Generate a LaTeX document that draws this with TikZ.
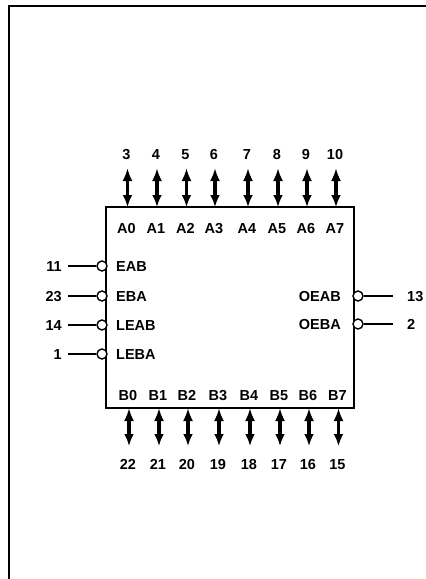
\documentclass[tikz,border=0pt]{standalone}
\usepackage{fontspec}
\setmainfont{Liberation Sans}
\usetikzlibrary{arrows.meta}
\begin{document}
\begin{tikzpicture}[x=1pt,y=-1pt,
  lab/.style={font=\bfseries\fontsize{14.5}{16}\selectfont,inner sep=0pt,text=black},
  pinline/.style={line width=1.4pt,draw=black},
  bus/.style={line width=3.2pt,draw=black,{Latex[length=13pt,width=10pt]}-{Latex[length=12pt,width=10pt]}},
  bubble/.style={circle,draw=black,fill=white,line width=1.4pt,minimum size=10pt,inner sep=0pt},
  chip/.style={draw=black,line width=2.6pt,minimum width=248pt,minimum height=201pt,inner sep=0pt}]
\useasboundingbox (0,0) rectangle (426,579);
\fill[white] (0,0) rectangle (426,579);
\coordinate (fa) at (9,579); \coordinate (fb) at (9,6); \coordinate (fc) at (426,6);
\draw[line width=1.6pt] (fa) -- (fb) -- (fc);
\node[chip] (u) at (230,307.5) {};
\foreach \x/\xb/\a/\ta/\b/\tb/\nm in {
 127.5/129/3/A0/22/B0/0,157/159/4/A1/21/B1/1,186.5/188/5/A2/20/B2/2,215/219/6/A3/19/B3/3,
 248/250/7/A4/18/B4/4,278/280/8/A5/17/B5/5,307/309/9/A6/16/B6/6,336/338.5/10/A7/15/B7/7}{
  \node[lab,anchor=base] (pa\nm) at (\x-1,159) {\a};
  \node[lab,anchor=base] (ia\nm) at (\x-1,233) {\ta};
  \coordinate (ta\nm) at (\x,168);
  \coordinate (ua\nm) at (\x,207);
  \draw[bus] (ta\nm) -- (ua\nm);
  \node[lab,anchor=base] (pb\nm) at (\xb-1,469) {\b};
  \node[lab,anchor=base] (ib\nm) at (\xb-1,400) {\tb};
  \coordinate (tb\nm) at (\xb,408);
  \coordinate (ub\nm) at (\xb,446);
  \draw[bus] (tb\nm) -- (ub\nm);
}
\foreach \y/\p/\t/\nm in {266/11/EAB/0,296/23/EBA/1,325/14/LEAB/2,354/1/LEBA/3}{
  \node[lab,anchor=base east] (lp\nm) at (62,\y+5) {\p};
  \node[lab,anchor=base west] (lt\nm) at (116,\y+5) {\t};
  \node[bubble] (lb\nm) at (102,\y) {};
  \coordinate (le\nm) at (68,\y);
  \draw[pinline] (le\nm) -- (lb\nm);
}
\foreach \y/\p/\t/\nm in {296/13/OEAB/0,324/2/OEBA/1}{
  \node[lab,anchor=base west] (rp\nm) at (407,\y+5) {\p};
  \node[lab,anchor=base east] (rt\nm) at (341,\y+5) {\t};
  \node[bubble] (rb\nm) at (358,\y) {};
  \coordinate (re\nm) at (393,\y);
  \draw[pinline] (rb\nm) -- (re\nm);
}
\end{tikzpicture}
\end{document}
